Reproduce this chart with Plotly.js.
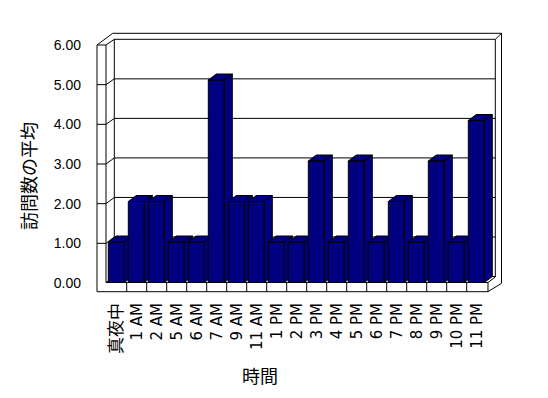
<!DOCTYPE html>
<html><head><meta charset="utf-8">
<script src="https://cdn.plot.ly/plotly-3.0.1.min.js"></script>
<style>html,body{margin:0;padding:0;background:#fff}</style>
</head><body><div id="chart" style="width:548px;height:398px"></div>
<script>
const categories = ['真夜中','1 AM','2 AM','5 AM','6 AM','7 AM','9 AM','11 AM','1 PM','2 PM','3 PM','4 PM','5 PM','6 PM','7 PM','8 PM','9 PM','10 PM','11 PM'];
const visits = [1,2,2,1,1,5,2,2,1,1,3,1,3,1,2,1,3,1,4];
const yTickValues = [0,1,2,3,4,5,6];
const yTickLabels = ['0.00','1.00','2.00','3.00','4.00','5.00','6.00'];
const xTitle = '時間';
const yTitle = '訪問数の平均';

// ---- geometry (pixels) ----
const W = 548, H = 398, L = 97, R = 502, T = 33, B = 292;
const pw = R - L, ph = B - T;
const PX = p => (p - L) / pw;
const PY = p => (B - p) / ph;

const xUnit = 20, x0px = 106.7;
const xRange = [(L - x0px) / xUnit, (R - x0px) / xUnit];
const barUnit = 40.5, bar0 = 282.5;
const yBarRange = [(bar0 - B) / barUnit, (bar0 - T) / barUnit];
const wallUnit = 39.67, wall0 = 283;
const yWallRange = [(wall0 - B) / wallUnit, (wall0 - T) / wallUnit];
const backUnit = 39.53, back0 = 276.5;

const dX = 8 / xUnit, dY = 6 / barUnit;
const barL = 0.08, barR = 0.88;
const navy = '#000080';
const FONT = 'Liberation Sans, Arial, Noto Sans CJK JP, sans-serif';
const XFONT = 'DejaVu Sans, Noto Sans CJK JP, sans-serif';
const JFONT = 'Noto Sans CJK JP, sans-serif';
const hasCJK = s => /[\u3000-\u9fff]/.test(s);

// ---- bars (front, side, top faces) ----
const traces = [{
  type: 'scatter', x: [0], y: [0], mode: 'markers', marker: {opacity: 0},
  hoverinfo: 'skip', showlegend: false, xaxis: 'x', yaxis: 'y'
}];
visits.forEach((v, i) => {
  const a = i + barL, b = i + barR;
  traces.push({
    type: 'scatter', mode: 'lines', xaxis: 'x', yaxis: 'y2',
    x: [a, b, b, a, a, null, b, b + dX, b + dX, b, b, null, a, b, b + dX, a + dX, a],
    y: [0, 0, v, v, 0, null, 0, dY, v + dY, v, 0, null, v, v, v + dY, v + dY, v],
    fill: 'toself', fillcolor: navy, line: {color: '#000', width: 1},
    connectgaps: false, hoverinfo: 'skip', showlegend: false
  });
});

// ---- walls / floor decoration ----
function P(pts) {
  return pts.map((p, k) => (k ? 'L' : 'M') + PX(p[0]).toFixed(5) + ',' + PY(p[1]).toFixed(5)).join(' ');
}
const segs = [
  [[97,45],[97,291.7],[488,291.7],[501.5,283.3],[501.5,33.3],[112.7,33.3],[97,45]],
  [[97,45],[106,45],[106,282.5],[488,282.5],[488,291.7]],
  [[106,45],[114.3,39.3],[495.3,39.3],[501.5,33.3]],
  [[495.3,39.3],[495.3,277],[488,282.5]],
  [[114.3,39.3],[114.3,276.5],[495.3,276.5]],
  [[106,282.5],[114.3,276.5]]
];
yTickValues.forEach(v => {
  if (v === 0 || v === 6) return;
  const yf = wall0 - wallUnit * v, yb = back0 - backUnit * v;
  segs.push([[97,yf],[106,yf],[114.3,yb],[495.3,yb]]);
});
for (let k = 1; k < categories.length; k++) {
  const x = x0px + xUnit * k;
  segs.push([[x,282.5],[x,291.7]]);
}
const shapes = segs.map(s => ({
  type: 'path', xref: 'paper', yref: 'paper', path: P(s),
  line: {color: '#000', width: 1}, layer: 'below'
}));

const layout = {
  width: W, height: H,
  margin: {l: L, r: W - R, t: T, b: H - B, pad: 0},
  paper_bgcolor: '#fff', plot_bgcolor: 'rgba(0,0,0,0)',
  showlegend: false,
  font: {family: FONT, color: '#000', size: 14},
  xaxis: {
    range: xRange, tickmode: 'array',
    tickvals: categories.map((c, i) => i + 0.5),
    ticktext: categories.map(c => hasCJK(c) ? '<span style="font-size:17px">' + c + '</span>' : c),
    tickangle: -90, ticks: '', showgrid: false, zeroline: false, showline: false,
    tickfont: {family: XFONT, size: 15, color: '#000'}, ticklabelstandoff: 7, fixedrange: true
  },
  yaxis: {
    range: yWallRange, tickmode: 'array', tickvals: yTickValues, ticktext: yTickLabels,
    ticks: '', showgrid: false, zeroline: false, showline: false,
    tickfont: {family: FONT, size: 14, color: '#000'}, ticklabelstandoff: 15, fixedrange: true
  },
  yaxis2: {
    range: yBarRange, overlaying: 'y', visible: false, fixedrange: true
  },
  shapes: shapes,
  annotations: [
    {text: yTitle, xref: 'paper', yref: 'paper', x: PX(28), y: PY(176), textangle: -90,
     showarrow: false, font: {family: JFONT, size: 18, color: '#000'}, xanchor: 'center', yanchor: 'middle'},
    {text: xTitle, xref: 'paper', yref: 'paper', x: PX(260), y: PY(375),
     showarrow: false, font: {family: JFONT, size: 18, color: '#000'}, xanchor: 'center', yanchor: 'middle'}
  ]
};
Plotly.newPlot('chart', traces, layout, {displayModeBar: false, staticPlot: true});
</script>
</body></html>
